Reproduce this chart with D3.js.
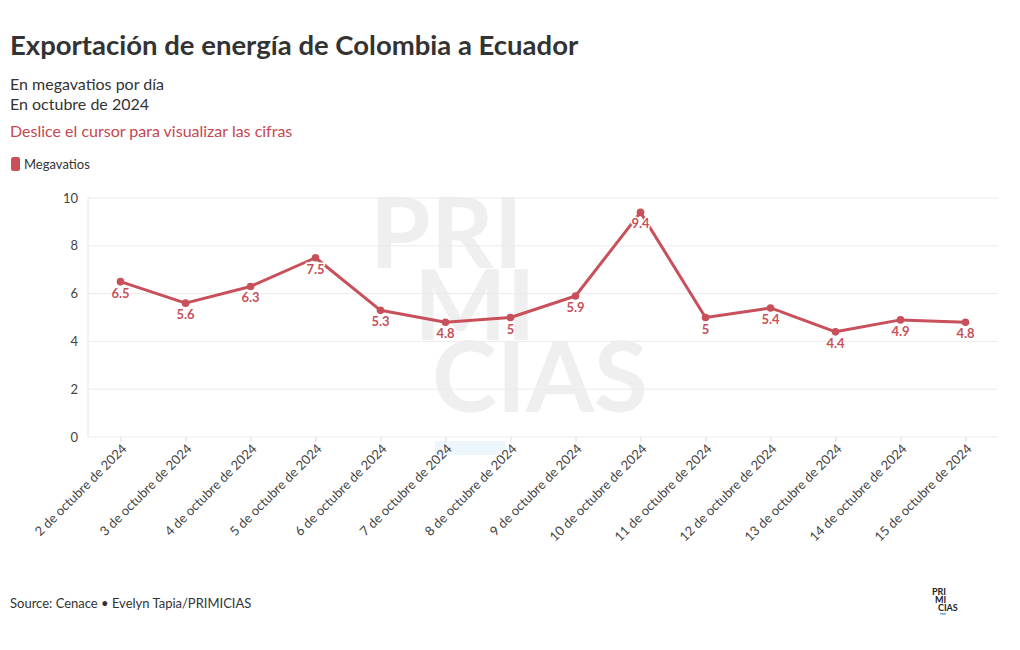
<!DOCTYPE html>
<html><head><meta charset="utf-8">
<script src="https://cdn.jsdelivr.net/npm/d3@7"></script>
<style>
body{margin:0;background:#fff;}
text{font-family:"Source Sans Pro",Lato,"Noto Sans",sans-serif;}
</style></head>
<body><svg id="c" width="1020" height="650"></svg>
<script>
const categories = ["2 de octubre de 2024","3 de octubre de 2024","4 de octubre de 2024","5 de octubre de 2024","6 de octubre de 2024","7 de octubre de 2024","8 de octubre de 2024","9 de octubre de 2024","10 de octubre de 2024","11 de octubre de 2024","12 de octubre de 2024","13 de octubre de 2024","14 de octubre de 2024","15 de octubre de 2024"];
const values = [6.5,5.6,6.3,7.5,5.3,4.8,5,5.9,9.4,5,5.4,4.4,4.9,4.8];
const yTicks = [0,2,4,6,8,10];
const seriesName = "Megavatios";
const title = "Exportación de energía de Colombia a Ecuador";
const subtitles = ["En megavatios por día","En octubre de 2024"];
const note = "Deslice el cursor para visualizar las cifras";
const source = "Source: Cenace • Evelyn Tapia/PRIMICIAS";

const red = "#c8505a";
const svg = d3.select("#c");
const L=88, R=998, T=198, B=437;
const FF = '"Source Sans Pro",Lato,"Noto Sans",sans-serif';

svg.append("text").attr("x",10).attr("y",55).attr("font-size",27.5).attr("font-weight",700).attr("fill","#333").text(title);
subtitles.forEach((s,i)=>svg.append("text").attr("x",10).attr("y",90+i*20).attr("font-size",16).attr("fill","#333").text(s));
svg.append("text").attr("x",10).attr("y",137).attr("font-size",16).attr("fill","#c8464f").text(note);
svg.append("rect").attr("x",11).attr("y",157).attr("width",9).attr("height",14).attr("rx",2.5).attr("fill",red);
svg.append("text").attr("x",24).attr("y",169).attr("font-size",13).attr("fill","#333").text(seriesName);

// watermark
const wm = svg.append("g").attr("fill","#efefef").attr("font-weight",700).attr("font-size",98).style("letter-spacing","0px");
wm.append("text").attr("x",370).attr("y",268).text("PRI");
wm.append("text").attr("x",414).attr("y",340).text("MI");
wm.append("text").attr("x",432).attr("y",412).text("CIAS");

const x = d3.scalePoint().domain(categories).range([L,R]).padding(0.5);
const y = d3.scaleLinear().domain([0,10]).range([B,T]);

// grid
svg.append("g").selectAll("line").data(yTicks).join("line")
  .attr("x1",L).attr("x2",R).attr("y1",d=>y(d)).attr("y2",d=>y(d))
  .attr("stroke","#ebebeb").attr("stroke-width",1);
svg.append("line").attr("x1",L).attr("x2",L).attr("y1",T).attr("y2",B).attr("stroke","#e6e6e6");

const ya = svg.append("g").attr("transform",`translate(${L},0)`).call(d3.axisLeft(y).tickValues(yTicks).tickSize(0).tickPadding(10));
ya.select(".domain").remove();
ya.selectAll("text").attr("font-size",13).attr("fill","#444").style("font-family",FF);

svg.append("rect").attr("x",435).attr("y",441).attr("width",70).attr("height",14).attr("fill","#eef6fd");

const xa = svg.append("g").attr("transform",`translate(0,${B})`).call(d3.axisBottom(x).tickSize(5).tickPadding(4));
xa.select(".domain").remove();
xa.selectAll("line").attr("stroke","#ddd");
xa.selectAll("text").attr("font-size",13).attr("fill","#444").style("font-family",FF)
  .attr("text-anchor","end").attr("dy","0.35em").attr("transform","translate(-3,3) rotate(-45)");

const line = d3.line().x((d,i)=>x(categories[i])).y(d=>y(d));
svg.append("path").datum(values).attr("d",line).attr("fill","none").attr("stroke",red).attr("stroke-width",3).attr("stroke-linejoin","round");
svg.append("g").selectAll("circle").data(values).join("circle")
  .attr("cx",(d,i)=>x(categories[i])).attr("cy",d=>y(d)).attr("r",3.8).attr("fill",red);
svg.append("g").selectAll("text").data(values).join("text")
  .attr("x",(d,i)=>x(categories[i])).attr("y",d=>y(d)+16).attr("text-anchor","middle")
  .attr("font-size",13).attr("font-weight",700).attr("fill",red)
  .attr("stroke","#fff").attr("stroke-width",3).attr("paint-order","stroke").text(d=>d);

svg.append("text").attr("x",10).attr("y",608).attr("font-size",13).attr("fill","#333").text(source);
const lg = svg.append("g").attr("font-size",9).attr("font-weight",700).attr("fill","#222");
lg.append("text").attr("x",932).attr("y",595).text("PRI");
lg.append("text").attr("x",935).attr("y",603).text("MI");
lg.append("text").attr("x",938).attr("y",611).text("CIAS");
svg.append("rect").attr("x",940).attr("y",613).attr("width",6).attr("height",1.5).attr("fill","#5aa9e6");
</script></body></html>
